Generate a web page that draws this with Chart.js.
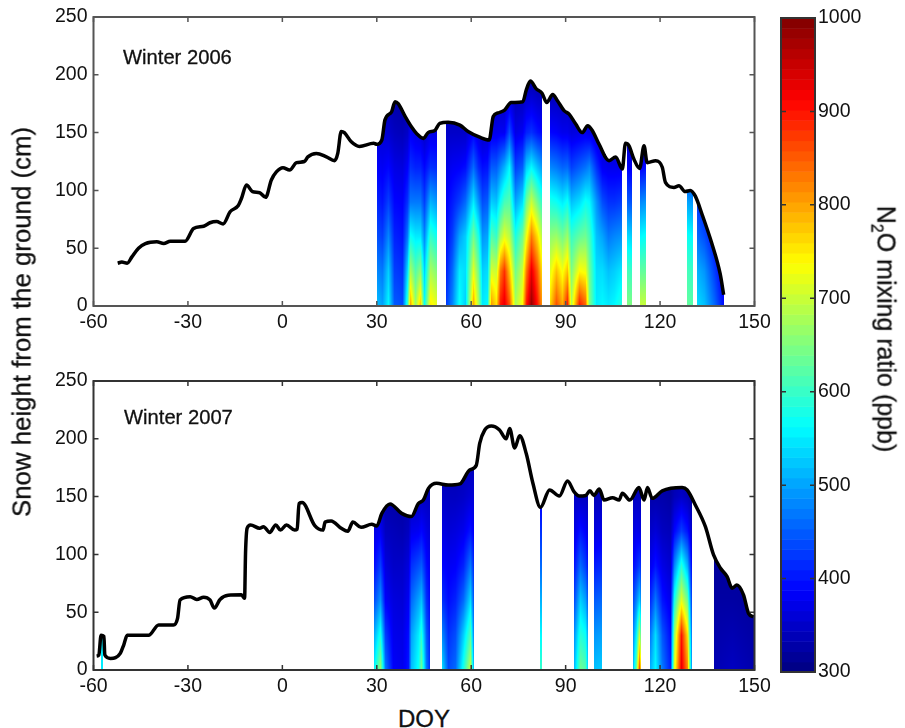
<!DOCTYPE html>
<html>
<head>
<meta charset="utf-8">
<script src="https://cdn.jsdelivr.net/npm/chart.js@4"></script>
<style>
  html, body { margin: 0; padding: 0; background: #fff; overflow: hidden; }
  #page { position: relative; width: 905px; height: 728px; font-family: "Liberation Sans", Arial, sans-serif; color: #111; }
  canvas { position: absolute; }
  .txt { position: absolute; white-space: nowrap; -webkit-text-stroke: 0.3px #111; }
  .rot { transform: translate(-50%, -50%) rotate(-90deg); font-size: 25.8px; }
  .rotR { transform: translate(-50%, -50%) rotate(90deg); font-size: 25px; }
  sub { font-size: 16px; }
</style>
</head>
<body>
<div id="page">
  <canvas id="c2006"></canvas>
  <canvas id="c2007"></canvas>
  <canvas id="cBar"></canvas>
  <div class="txt" style="left:123px;top:46px;font-size:20.2px">Winter 2006</div>
  <div class="txt" style="left:124px;top:406px;font-size:20.2px">Winter 2007</div>
  <div class="txt rot" style="left:22px;top:322px">Snow height from the ground (cm)</div>
  <div class="txt" style="left:398px;top:705px;font-size:24px">DOY</div>
  <div class="txt rotR" style="left:884px;top:329px">N<sub>2</sub>O mixing ratio (ppb)</div>
</div>
<script>
// axis ticks
const doyTicks = [-60, -30, 0, 30, 60, 90, 120, 150];
const heightTicks = [0, 50, 100, 150, 200, 250];
const n2oTicks = [300, 400, 500, 600, 700, 800, 900, 1000];

// snow height, winter 2006
const snowDoy06 = [-52.3,-51,-49.3,-47.8,-45.7,-43.5,-39.9,-37.7,-35.6,-30.9,-28.2,-25,-23,-20.9,-18.8,-16.6,-14,-13,-11.4,-9.5,-7.2,-5.3,-3.5,-1.9,0.2,2.3,4.5,7,8.1,10.8,14,16.6,17.6,18.7,19.7,21.9,24.5,29,30,31.6,32.6,34.7,35.8,36.8,39,41,42.7,44.8,46.3,48.5,50,52.7,56.4,59,62.7,65.7,67,68.5,70.6,72.7,76.4,77.5,78.8,80.6,82.5,84,85.9,87.4,89.5,91.1,93.2,95.3,97,98.5,100.6,103.8,105.9,108,109,110.1,111.7,113.5,114.9,115.9,118.6,120.7,121.7,124.4,126,128,129.6,131.2,133.3,136.5,139.1,140.2];
const snowCm06 = [37,38,37,42.5,50,54,55.5,54,56,56,67,69,72,73,71,81.5,87,93,104.6,99,98,94,109,116,119.6,117.6,124,125,129,132,129,125.7,132,151,150,142,138,140.7,140,143.6,161,168,176.7,175,164,155,149,145,150,152,158,159,156.5,151,146,143.6,164,167,169.5,176,176.7,187,194.6,188,184,176,183,177.6,169,166,157.4,150,156,151.6,140,125.7,129,118.5,140.7,138.7,127,119,138.7,124,125.7,120,107,102.6,104,99,100,95,79.6,53.6,27.7,9.8];

// snow height, winter 2007
const snowDoy07 = [-59,-58.3,-57.6,-56.7,-56.4,-54.6,-53,-51.5,-50.4,-49.3,-42.5,-39.3,-34.6,-33.3,-32.5,-29.3,-27.2,-25,-23,-21.6,-19.8,-17.2,-13,-12,-11.7,-11.2,-10.1,-7.2,-6,-4,-2.1,-0.6,1.3,3.9,4.7,5.3,6.3,10.3,12.9,13.6,15.5,18.7,20.8,22.4,25,28.4,30,31.6,34.2,37.9,41,43.2,44.8,46.4,49,52.7,56.4,59.5,61.6,62.7,64.3,66.4,69,71.1,72.2,73.8,75.4,77.5,79.6,82,84.9,88,90.6,92.7,94.3,96.4,97.7,99,100.7,102.2,104.9,107,108,110.4,113.3,114.9,116,117.5,120.7,127,128.6,131.2,134.4,137,139.2,141.3,142.9,144.4,146.5,148.1,149.7];
const snowCm07 = [12,13,30,29,13,10,10.7,14.4,21.6,30,30,39,39,44.7,60.6,63.4,61,63,60.6,53.6,61,64.6,65,62,101,122.6,125.5,122.6,124,119,125.5,121,125.5,121,121.7,144,144.8,124.9,121,128,129,122.6,120,128,123.4,126,124.6,135.5,143.6,135.5,132.7,144,147,157,161.5,160,161,173,177,196,207.6,211,207.6,200,209,192,202.7,187,161.5,140.7,155.7,150.5,163.5,154,150.5,151,155,151,156.6,147,149,147,153,147,157.8,147,157.8,148.5,155,157.8,155.7,142.8,124,99.5,88,80.8,70.7,73.5,65,49,46];

// heights (cm) of the N2O profile rows
const levels = [0, 30, 60, 90, 120, 150, 190];

// N2O profiles (ppb) per measured day, null = no data between the days
const heatDoy06 = [30,31.5,33.5,35.5,38,39.5,40.5,42,43.7,45,47,49,null,52,54,56,58,60.5,62,63.5,65,66.3,68,69,70.5,72,74,76,77.5,79,81,82.5,null,85,87,89,90.3,91.8,94.3,96,97.5,99.5,101.5,103.5,105.5,108,null,109.4,111.2,null,113.5,115.4,null,128.6,130.4,null,131.7,134,137,139.4,140.4];
const heatN2o06 = [
  [520,480,440,410,385,360,330],[500,470,430,400,380,360,330],[560,530,480,430,390,355,330],[450,430,410,390,370,345,320],
  [440,420,400,385,365,340,320],[600,540,470,420,385,350,320],[800,680,570,470,420,380,330],[670,620,550,470,410,370,330],[780,660,550,470,410,365,330],
  [570,530,480,430,390,350,330],[750,680,600,510,420,370,330],[720,650,570,490,415,370,330],null,
  [430,410,395,385,370,350,330],[480,460,430,405,380,350,330],[570,550,500,430,385,350,330],[530,540,530,460,395,350,330],
  [800,720,640,550,460,385,335],[680,640,580,490,415,365,330],[550,530,490,440,395,350,330],[560,540,500,450,400,355,330],
  [810,710,620,530,450,375,330],[760,700,600,520,450,375,330],[900,830,680,570,480,380,330],[930,880,720,610,510,380,330],[860,780,690,620,560,440,335],
  [680,640,580,500,430,370,330],[740,700,640,540,450,380,330],[900,830,730,640,530,410,335],[985,930,830,700,560,420,340],[900,850,760,640,520,400,335],
  [800,750,680,590,490,390,330],null,
  [770,720,660,580,480,390,330],[860,780,670,570,470,385,330],[800,730,640,550,455,375,330],[900,780,670,570,460,375,330],
  [690,650,600,520,430,365,330],[900,740,630,540,450,370,330],[850,730,640,570,465,375,330],[650,640,610,560,480,370,330],
  [550,540,520,490,420,355,330],[560,540,500,440,380,340,330],[550,520,470,420,375,340,330],[560,530,480,420,375,345,330],
  [590,550,490,430,375,345,330],null,
  [650,610,540,450,385,340,330],[650,600,530,440,375,340,330],null,
  [700,630,560,480,385,340,330],[700,630,570,490,395,340,330],null,
  [630,610,570,500,400,350,330],[620,600,560,490,400,350,330],null,
  [540,510,460,425,390,360,330],[520,490,440,405,380,350,330],[460,430,395,375,350,340,330],[410,385,365,350,340,330,320],[390,370,350,340,330,320,320]
];

const heatDoy07 = [-57.5,-57.1,null,29,31,32.6,35,38,40,41,43,44.2,45.5,47,null,50.8,52.5,55,57.5,59.5,60.8,null,82,82.4,null,92.5,94.5,96,97,null,99,101.4,null,111.4,112.5,113.2,114,null,116.8,118.5,120.7,123,124.4,126.5,128.6,130.2,null,137,143,150];
const heatN2o07 = [
  [550,550,400,350,330,320,320],[550,550,400,350,330,320,320],null,
  [560,510,440,395,370,355,335],[670,580,490,430,380,350,335],[470,430,385,365,345,330,320],[385,375,365,350,340,325,320],
  [375,370,360,350,335,325,320],[400,395,380,365,345,330,320],[520,500,460,420,375,340,325],[570,550,500,440,380,340,325],
  [640,590,520,450,390,345,325],[470,450,420,395,370,345,325],[410,400,385,375,360,345,325],null,
  [540,480,420,390,370,350,330],[440,420,395,380,360,345,330],[460,440,410,385,365,345,330],[580,530,460,410,375,350,330],
  [700,620,540,470,400,360,330],[470,450,425,405,380,360,330],null,
  [600,560,510,460,420,380,340],[600,560,510,460,420,380,340],null,
  [520,490,440,400,370,350,330],[640,590,530,460,400,345,325],[620,570,500,430,385,345,325],[510,490,440,395,365,340,325],null,
  [520,490,450,405,365,340,325],[530,500,460,415,375,340,325],null,
  [530,490,440,395,365,345,330],[640,560,480,410,375,345,330],[870,700,530,430,370,345,330],[720,590,470,405,365,345,330],null,
  [510,470,415,375,350,330,320],[560,540,470,400,360,330,320],[470,445,400,370,345,330,320],[410,395,375,355,340,325,320],
  [720,670,580,480,390,340,320],[930,900,720,590,430,350,320],[820,760,640,510,400,340,320],[430,410,390,370,345,325,320],null,
  [335,330,325,320,320,320,320],[345,335,325,320,320,320,320],[330,325,320,320,320,320,320]
];

// MATLAB jet colormap
function jet(ppb) {
  const t = Math.min(1, Math.max(0, (ppb - 300) / 700));
  const ch = c => Math.round(255 * Math.min(1, Math.max(0, 1.5 - Math.abs(4 * t - c))));
  return `rgb(${ch(3)},${ch(2)},${ch(1)})`;
}

function lerpAt(xs, ys, x) {
  for (let i = 0; i < xs.length - 1; i++) {
    if (x >= xs[i] && x <= xs[i + 1]) {
      return ys[i] + (ys[i + 1] - ys[i]) * (x - xs[i]) / (xs[i + 1] - xs[i]);
    }
  }
  return null;
}

// shaded profile cells under the snow line
function heatPlugin(doys, rows, snowDoy, snowCm) {
  return {
    id: 'heat',
    beforeDatasetsDraw(chart) {
      const { ctx, scales: { x, y } } = chart;
      const ground = y.getPixelForValue(0);
      for (let i = 0; i < doys.length - 1; i++) {
        if (doys[i] === null || doys[i + 1] === null) continue;
        const x0 = Math.round(x.getPixelForValue(doys[i]));
        const x1 = Math.max(x0 + 1, Math.round(x.getPixelForValue(doys[i + 1])));
        for (let px = x0; px < x1; px++) {
          const f = (px - x0) / (x1 - x0);
          const d = x.getValueForPixel(px + 0.5);
          const top = lerpAt(snowDoy, snowCm, d);
          if (top === null) continue;
          const topPx = y.getPixelForValue(top);
          for (let py = Math.round(ground) - 1; py >= topPx - 1; py--) {
            const cm = y.getValueForPixel(py + 0.5);
            const a = lerpAt(levels, rows[i], Math.min(cm, 190));
            const b = lerpAt(levels, rows[i + 1], Math.min(cm, 190));
            ctx.fillStyle = jet(a + (b - a) * f);
            ctx.fillRect(px, py, 1, 1);
          }
        }
      }
    }
  };
}

// box round the plot with inward ticks
const boxPlugin = {
  id: 'box',
  afterDraw(chart, args, opts) {
    const { ctx, chartArea: a, scales: { x, y } } = chart;
    ctx.save();
    ctx.strokeStyle = opts.color;
    ctx.lineWidth = 1.5;
    const len = 5;
    ctx.beginPath();
    if (!opts.noX) {
      x.ticks.forEach(t => {
        const p = x.getPixelForValue(t.value);
        ctx.moveTo(p, a.bottom); ctx.lineTo(p, a.bottom - len);
        ctx.moveTo(p, a.top); ctx.lineTo(p, a.top + len);
      });
    }
    y.ticks.forEach(t => {
      const p = y.getPixelForValue(t.value);
      ctx.moveTo(a.left, p); ctx.lineTo(a.left + len, p);
      ctx.moveTo(a.right, p); ctx.lineTo(a.right - len, p);
    });
    ctx.stroke();
    ctx.lineWidth = 2;
    ctx.strokeRect(a.left, a.top, a.right - a.left, a.bottom - a.top);
    ctx.restore();
  }
};

const tickFont = { family: '"Liberation Sans", Arial, sans-serif', size: 19.5 };
const plainTick = v => String(v);

function snowChart(id, top, doys, rows, snowDoy, snowCm, boxColor) {
  const el = document.getElementById(id);
  el.style.left = '0px';
  el.style.top = top + 'px';
  el.style.width = '775px';
  el.style.height = '335px';
  el.width = 775;
  el.height = 335;
  return new Chart(el, {
    type: 'scatter',
    data: {
      datasets: [{
        data: snowDoy.map((d, i) => ({ x: d, y: snowCm[i] })),
        showLine: true,
        borderColor: '#000',
        borderWidth: 3.5,
        borderJoinStyle: 'round',
        cubicInterpolationMode: 'monotone',
        pointRadius: 0,
        clip: false
      }]
    },
    options: {
      responsive: false,
      animation: false,
      layout: { padding: { left: 0, top: 17, right: 20.5, bottom: 0 } },
      plugins: { legend: { display: false }, tooltip: { enabled: false }, box: { color: boxColor } },
      scales: {
        x: {
          type: 'linear', min: -60, max: 150,
          grid: { display: false, drawTicks: false },
          border: { display: false },
          afterBuildTicks: s => { s.ticks = doyTicks.map(v => ({ value: v })); },
          afterFit: s => { s.height = 335 - 17 - 289; s.paddingLeft = 0; s.paddingRight = 0; },
          ticks: { color: '#111', font: tickFont, padding: 5, maxRotation: 0, autoSkip: false, callback: plainTick }
        },
        y: {
          min: 0, max: 250,
          grid: { display: false, drawTicks: false },
          border: { display: false },
          afterBuildTicks: s => { s.ticks = heightTicks.map(v => ({ value: v })); },
          afterFit: s => { s.width = 93.5; s.paddingTop = 0; s.paddingBottom = 0; },
          ticks: { color: '#111', font: tickFont, padding: 6, callback: plainTick }
        }
      }
    },
    plugins: [heatPlugin(doys, rows, snowDoy, snowCm), boxPlugin]
  });
}

snowChart('c2006', 0, heatDoy06, heatN2o06, snowDoy06, snowCm06, '#555');
snowChart('c2007', 364, heatDoy07, heatN2o07, snowDoy07, snowCm07, '#333');

// colour bar, 64 steps like the MATLAB one
const barSteps = 64;
const barPlugin = {
  id: 'barCells',
  beforeDatasetsDraw(chart) {
    const { ctx, chartArea: a, scales: { y } } = chart;
    for (let i = 0; i < barSteps; i++) {
      const lo = 300 + i * 700 / barSteps;
      const hi = 300 + (i + 1) * 700 / barSteps;
      const top = y.getPixelForValue(hi);
      ctx.fillStyle = jet((lo + hi) / 2);
      ctx.fillRect(a.left, top, a.right - a.left, y.getPixelForValue(lo) - top + 0.5);
    }
  }
};

const barEl = document.getElementById('cBar');
barEl.style.left = '760px';
barEl.style.top = '0px';
barEl.style.width = '110px';
barEl.style.height = '690px';
barEl.width = 110;
barEl.height = 690;
new Chart(barEl, {
  type: 'scatter',
  data: { datasets: [{ data: [], pointRadius: 0 }] },
  options: {
    responsive: false,
    animation: false,
    layout: { padding: { left: 21, top: 18, right: 0, bottom: 18 } },
    plugins: { legend: { display: false }, tooltip: { enabled: false }, box: { color: '#333', noX: true } },
    scales: {
      x: { type: 'linear', min: 0, max: 1, display: false },
      y: {
        position: 'right',
        min: 300, max: 1000,
        grid: { display: false, drawTicks: false },
        border: { display: false },
        afterBuildTicks: s => { s.ticks = n2oTicks.map(v => ({ value: v })); },
        afterFit: s => { s.width = 55; s.paddingTop = 0; s.paddingBottom = 0; },
        ticks: { color: '#111', font: tickFont, padding: 3, callback: plainTick }
      }
    }
  },
  plugins: [barPlugin, boxPlugin]
});
</script>
</body>
</html>
